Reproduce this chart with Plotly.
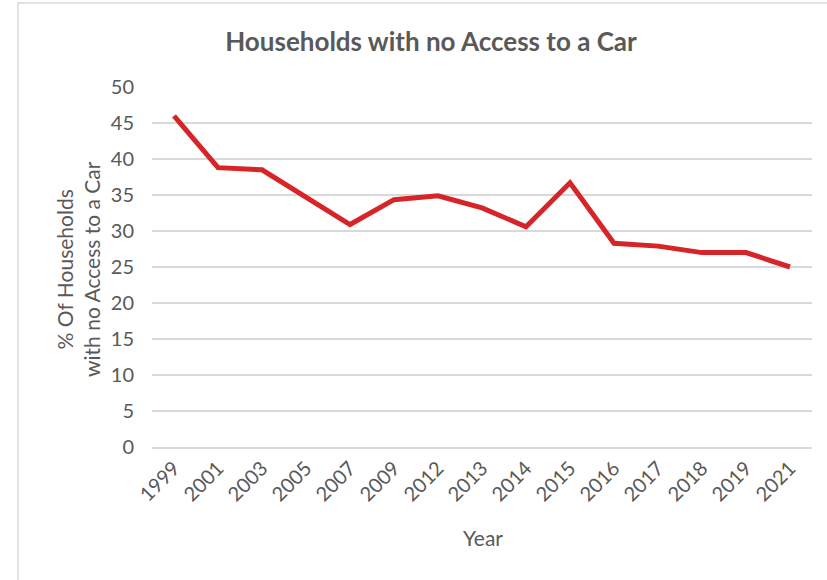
import plotly.graph_objects as go

# Survey years and share of households with no car (%)
years = ["1999", "2001", "2003", "2005", "2007", "2009", "2012", "2013",
         "2014", "2015", "2016", "2017", "2018", "2019", "2021"]
no_car_pct = [46.0, 38.8, 38.5, 34.7, 30.9, 34.35, 34.9, 33.2,
              30.6, 36.7, 28.3, 27.9, 27.0, 27.0, 25.0]
y_ticks = [0, 5, 10, 15, 20, 25, 30, 35, 40, 45, 50]

TEXT = "#595959"
GRID = "#d9d9d9"
FONT = "Lato"

W, H = 827, 580
L, R, T, B = 152, 15, 87, 133
pw, ph = W - L - R, H - T - B

def px_x(x):
    return (x - L) / pw

def px_y(y):
    return (H - B - y) / ph

fig = go.Figure()
fig.add_trace(go.Scatter(
    x=years, y=no_car_pct, mode="lines",
    line=dict(color="#d62429", width=5),
    hoverinfo="x+y", showlegend=False,
))

fig.update_layout(
    width=W, height=H,
    margin=dict(l=L, r=R, t=T, b=B),
    paper_bgcolor="white", plot_bgcolor="white",
    font=dict(family=FONT, color=TEXT, size=20),
    title=dict(text="<b>Households with no Access to a Car</b>",
               x=431 / W, xref="container", xanchor="center",
               y=1 - 42 / H, yanchor="middle",
               font=dict(family=FONT, size=26, color=TEXT)),
    xaxis=dict(type="category", range=[-0.5, len(years) - 0.5],
               tickangle=-45, showgrid=False, showline=True,
               linecolor=GRID, linewidth=1.5, ticks="",
               tickfont=dict(family=FONT, size=20, color=TEXT)),
    yaxis=dict(range=[0, 50], tickvals=y_ticks, showgrid=True,
               gridcolor=GRID, gridwidth=1.5, zeroline=False,
               showline=False, ticks="", ticklabelstandoff=17,
               tickfont=dict(family=FONT, size=20, color=TEXT)),
    shapes=[dict(type="rect", xref="paper", yref="paper",
                 x0=px_x(18), x1=px_x(W + 10), y0=px_y(H + 10), y1=px_y(3),
                 line=dict(color=GRID, width=1.5), fillcolor="rgba(0,0,0,0)",
                 layer="below")],
    annotations=[
        dict(text="Year", xref="paper", yref="paper",
             x=px_x(483), y=px_y(537), showarrow=False,
             xanchor="center", yanchor="middle",
             font=dict(family=FONT, size=21, color=TEXT)),
        dict(text="% Of Households<br>with no Access to a Car",
             xref="paper", yref="paper", x=px_x(78), y=px_y(269),
             showarrow=False, textangle=-90, xanchor="center",
             yanchor="middle",
             font=dict(family=FONT, size=21, color=TEXT)),
    ],
)

fig.write_html("out.html")
